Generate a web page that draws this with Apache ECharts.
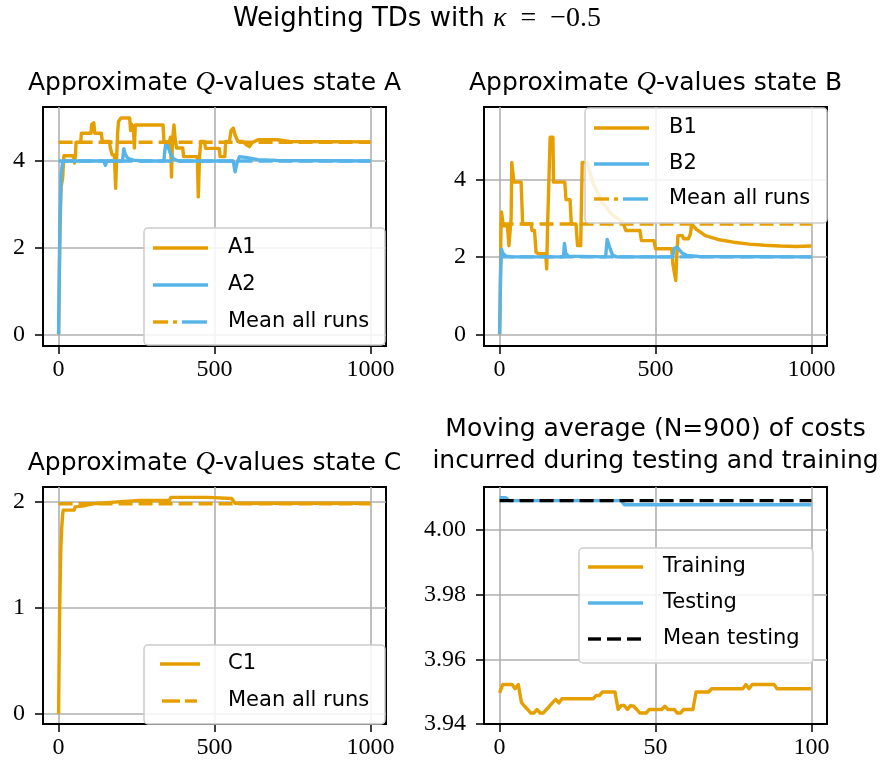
<!DOCTYPE html>
<html>
<head>
<meta charset="utf-8">
<title>Weighting TDs</title>
<script src="https://cdn.jsdelivr.net/npm/echarts@6/dist/echarts.min.js"></script>
<style>
  html, body { margin: 0; padding: 0; background: #fff; }
  #chart { width: 882px; height: 767px; }
</style>
</head>
<body>
<div id="chart"></div>
<script>
// ---- data -------------------------------------------------------------
// State A: [step, value] breakpoints
const stateA1 = [[0,0],[4,2.2],[8,3.4],[13,3.6],[17,4.12],[48,4.12],[51,3.95],[54,4.12],[56,4.43],[71,4.43],[73,4.64],[104,4.64],[106,4.84],[113,4.88],[116,4.64],[137,4.64],[140,4.45],[163,4.45],[166,4.30],[172,4.14],[179,4.14],[183,3.37],[186,4.05],[189,4.6],[192,4.91],[200,4.99],[228,4.99],[231,4.70],[234,4.85],[240,4.76],[243,4.30],[246,4.83],[335,4.83],[338,4.44],[355,4.44],[359,4.55],[362,3.63],[365,4.45],[370,4.83],[374,4.5],[378,4.30],[398,4.30],[401,4.10],[445,4.10],[448,3.17],[452,4.10],[456,4.45],[468,4.45],[471,4.29],[515,4.29],[518,4.10],[533,4.10],[536,4.45],[548,4.45],[553,4.70],[560,4.76],[566,4.60],[575,4.45],[590,4.45],[605,4.36],[612,4.33],[620,4.42],[640,4.49],[700,4.49],[740,4.45],[1000,4.44]];
const stateA2 = [[0,0],[4,2.5],[8,3.7],[13,3.98],[20,4.0],[145,4.0],[150,3.90],[155,4.0],[205,4.0],[209,4.28],[214,4.15],[222,4.06],[240,4.02],[270,4.0],[338,4.0],[340,4.2],[345,4.44],[350,4.35],[358,4.18],[368,4.05],[385,4.0],[560,4.0],[566,3.75],[572,3.95],[580,4.10],[600,4.08],[640,4.03],[700,4.01],[1000,4.0]];
const meanA = [4.43, 4.0];

// State B
const stateB1 = [[0,0],[2,0.8],[4,2.5],[6,3.16],[10,3.16],[12,2.8],[25,2.8],[28,2.85],[30,2.29],[33,2.29],[37,3.0],[39,4.44],[44,4.44],[46,3.93],[69,3.93],[74,2.85],[101,2.85],[104,2.68],[112,2.68],[117,2.12],[125,2.08],[148,2.08],[151,1.69],[154,2.85],[158,3.93],[162,5.09],[171,5.09],[173,3.93],[209,3.93],[213,3.48],[226,3.48],[230,2.85],[245,2.85],[250,2.29],[260,2.29],[265,4.44],[280,4.44],[300,3.9],[330,3.4],[360,3.1],[395,2.9],[405,2.68],[450,2.68],[455,2.42],[495,2.42],[500,2.21],[552,2.21],[556,1.80],[565,1.39],[568,2.0],[572,2.55],[586,2.55],[590,2.47],[606,2.47],[612,2.6],[616,2.85],[630,2.72],[660,2.55],[700,2.45],[750,2.38],[800,2.33],[850,2.30],[900,2.28],[950,2.27],[1000,2.28]];
const stateB2 = [[0,0],[3,1.5],[6,2.2],[10,2.1],[20,2.02],[40,2.0],[205,2.0],[208,2.35],[212,2.1],[220,2.02],[340,2.0],[345,2.45],[350,2.5],[355,2.2],[362,2.05],[375,2.0],[555,2.0],[560,2.22],[570,2.25],[585,2.1],[600,2.04],[640,2.01],[1000,2.0]];
const meanB = [2.85, 2.0];

// State C
const stateC1 = [[0,0],[3,0.9],[7,1.55],[10,1.75],[13,1.88],[15,1.92],[50,1.92],[53,1.95],[80,1.96],[110,1.98],[200,2.0],[250,2.01],[355,2.01],[360,2.04],[480,2.04],[555,2.03],[566,1.985],[1000,1.985]];
const meanC = [1.98];

// Moving-average costs
const training = [3.9496,3.9522,3.9522,3.9522,3.9522,3.9509,3.9522,3.9467,3.9455,3.9445,3.9434,3.9434,3.9445,3.9434,3.9434,3.9445,3.9455,3.9466,3.9476,3.9465,3.9478,3.9478,3.9478,3.9478,3.9478,3.9478,3.9478,3.9478,3.9478,3.9478,3.9478,3.9488,3.9488,3.9499,3.9499,3.9499,3.9499,3.9499,3.9445,3.9457,3.9457,3.9445,3.9457,3.9455,3.9445,3.9434,3.9434,3.9434,3.9445,3.9445,3.9445,3.9445,3.9445,3.9455,3.9445,3.9445,3.9445,3.9434,3.9434,3.9445,3.9445,3.9445,3.9445,3.9499,3.9499,3.9499,3.9499,3.9499,3.9509,3.9509,3.9509,3.9509,3.9509,3.9509,3.9509,3.9509,3.9509,3.9509,3.9509,3.9522,3.9509,3.9522,3.9522,3.9522,3.9522,3.9522,3.9522,3.9522,3.9522,3.9509,3.9509,3.9509,3.9509,3.9509,3.9509,3.9509,3.9509,3.9509,3.9509,3.9509,3.9509];
const testing = [[0,4.0100],[2,4.0100],[3,4.0091],[39,4.0091],[40,4.0078],[100,4.0078]];
const meanTesting = 4.0091;

// Tick labels
const ticksQ = [0, 500, 1000];
const ticksCost = [0, 50, 100];
const ticksAB = [0, 2, 4];
const ticksC = [0, 1, 2];
const ticksCostY = [3.94, 3.96, 3.98, 4.00];

// ---- styling --------------------------------------------------------
const ORANGE = '#E69F00';
const BLUE = '#56B4E9';
const SANS = 'DejaVu Sans';
const SERIF = 'Liberation Serif';
const LW = 3.4;
const DASH = [14, 6];

function xAxis(gridIndex, min, max, ticks) {
  return {
    type: 'value', gridIndex, min, max,
    axisLine: { show: true, onZero: false, lineStyle: { color: '#000', width: 2 } },
    axisTick: { show: true, customValues: ticks, length: 8, lineStyle: { color: '#000', width: 1.5 } },
    axisLabel: { customValues: ticks, margin: 12, fontFamily: SERIF, fontSize: 24, color: '#000',
      formatter: v => String(v) },
    splitLine: { show: true, lineStyle: { color: '#b0b0b0', width: 1.6 } }
  };
}
function yAxis(gridIndex, min, max, ticks, digits) {
  return {
    type: 'value', gridIndex, min, max,
    axisLine: { show: true, onZero: false, lineStyle: { color: '#000', width: 2 } },
    axisTick: { show: true, customValues: ticks, length: 8, lineStyle: { color: '#000', width: 1.5 } },
    axisLabel: { customValues: ticks, margin: 18, fontFamily: SERIF, fontSize: 24, color: '#000',
      formatter: v => digits ? v.toFixed(digits) : String(v) },
    splitLine: { show: true, lineStyle: { color: '#b0b0b0', width: 1.6 } }
  };
}
function line(idx, data, color, dashed, z) {
  return {
    type: 'line', xAxisIndex: idx, yAxisIndex: idx, data,
    showSymbol: false, symbol: 'none', animation: false, z,
    lineStyle: { color, width: LW, type: dashed ? DASH : 'solid', cap: 'butt', join: 'round' }
  };
}
function hline(idx, x0, x1, v, color, z) {
  return line(idx, [[x0, v], [x1, v]], color, true, z);
}

// legend drawn as graphic elements
function legend(box, items, textX) {
  const els = [{
    type: 'rect', z: 100,
    shape: { x: box[0], y: box[1], width: box[2], height: box[3], r: 4 },
    style: { fill: 'rgba(255,255,255,0.85)', stroke: '#cccccc', lineWidth: 1.5 }
  }];
  items.forEach(it => {
    it.segs.forEach(s => {
      els.push({
        type: 'line', z: 101,
        shape: { x1: s[0], y1: it.y, x2: s[1], y2: it.y },
        style: { stroke: s[2], lineWidth: LW }
      });
    });
    els.push({
      type: 'text', z: 101, x: textX, y: it.y,
      style: { text: it.label, fill: '#000', fontFamily: SANS, fontSize: 21,
        align: 'left', verticalAlign: 'middle' }
    });
  });
  return els;
}
function title(x, y, rich, size) {
  const fs = size || 25;
  return {
    type: 'text', z: 101, x, y,
    style: {
      text: rich, fill: '#000', align: 'center', verticalAlign: 'middle',
      fontFamily: SANS, fontSize: fs,
      rich: {
        s: { fontFamily: SANS, fontSize: fs, fill: '#000' },
        m: { fontFamily: SERIF, fontStyle: 'italic', fontSize: fs + 2, fill: '#000' },
        r: { fontFamily: SERIF, fontSize: fs + 2, fill: '#000' }
      }
    }
  };
}

const grids = [
  { left: 43, top: 107, width: 343, height: 239 },
  { left: 484, top: 107, width: 343, height: 239 },
  { left: 43, top: 487, width: 343, height: 237 },
  { left: 484, top: 487, width: 343, height: 237 }
].map(g => Object.assign({ show: true, borderColor: '#000', borderWidth: 2, backgroundColor: '#fff' }, g));

const option = {
  backgroundColor: '#fff',
  animation: false,
  grid: grids,
  xAxis: [
    xAxis(0, -50, 1050, ticksQ),
    xAxis(1, -50, 1050, ticksQ),
    xAxis(2, -50, 1050, ticksQ),
    xAxis(3, -5, 105, ticksCost)
  ],
  yAxis: [
    yAxis(0, -0.27, 5.245, ticksAB, 0),
    yAxis(1, -0.30, 5.87, ticksAB, 0),
    yAxis(2, -0.097, 2.138, ticksC, 0),
    yAxis(3, 3.94, 4.0133, ticksCostY, 2)
  ],
  series: [
    line(0, stateA1, ORANGE, false, 2),
    line(0, stateA2, BLUE, false, 3),
    hline(0, 0, 1000, meanA[0], ORANGE, 4),
    hline(0, 0, 1000, meanA[1], BLUE, 5),

    line(1, stateB1, ORANGE, false, 2),
    line(1, stateB2, BLUE, false, 3),
    hline(1, 0, 1000, meanB[0], ORANGE, 4),
    hline(1, 0, 1000, meanB[1], BLUE, 5),

    line(2, stateC1, ORANGE, false, 2),
    hline(2, 0, 1000, meanC[0], ORANGE, 4),

    line(3, training.map((v, i) => [i, v]), ORANGE, false, 2),
    line(3, testing, BLUE, false, 3),
    hline(3, 0, 100, meanTesting, '#000', 4)
  ],
  graphic: [
    title(417, 19, '{s|Weighting TDs with }{m|κ}{r|  =  −0.5}', 26),
    title(214.5, 83, '{s|Approximate }{m|Q}{s|-values state A}'),
    title(655.5, 83, '{s|Approximate }{m|Q}{s|-values state B}'),
    title(214.5, 463, '{s|Approximate }{m|Q}{s|-values state C}'),
    title(655.5, 429, '{s|Moving average (N=900) of costs}'),
    title(655.5, 461, '{s|incurred during testing and training}'),
    ...legend([144, 228, 241, 117], [
      { label: 'A1', y: 248, segs: [[153, 208, ORANGE]] },
      { label: 'A2', y: 285, segs: [[153, 208, BLUE]] },
      { label: 'Mean all runs', y: 322, segs: [[153, 168, ORANGE], [173, 177, ORANGE], [182, 207, BLUE]] }
    ], 228),
    ...legend([585, 108, 242, 115], [
      { label: 'B1', y: 128, segs: [[594, 649, ORANGE]] },
      { label: 'B2', y: 164, segs: [[594, 649, BLUE]] },
      { label: 'Mean all runs', y: 199, segs: [[594, 609, ORANGE], [614, 618, ORANGE], [623, 648, BLUE]] }
    ], 669),
    ...legend([144, 645, 241, 79], [
      { label: 'C1', y: 664, segs: [[160, 200, ORANGE]] },
      { label: 'Mean all runs', y: 701, segs: [[162, 180, ORANGE], [185, 197, ORANGE]] }
    ], 228),
    ...legend([579, 548, 234, 115], [
      { label: 'Training', y: 567, segs: [[588, 643, ORANGE]] },
      { label: 'Testing', y: 603, segs: [[588, 643, BLUE]] },
      { label: 'Mean testing', y: 639, segs: [[588, 601, '#000'], [607, 621, '#000'], [627, 641, '#000']] }
    ], 663)
  ]
};

const chart = echarts.init(document.getElementById('chart'), null, { renderer: 'canvas' });
chart.setOption(option);
</script>
</body>
</html>
